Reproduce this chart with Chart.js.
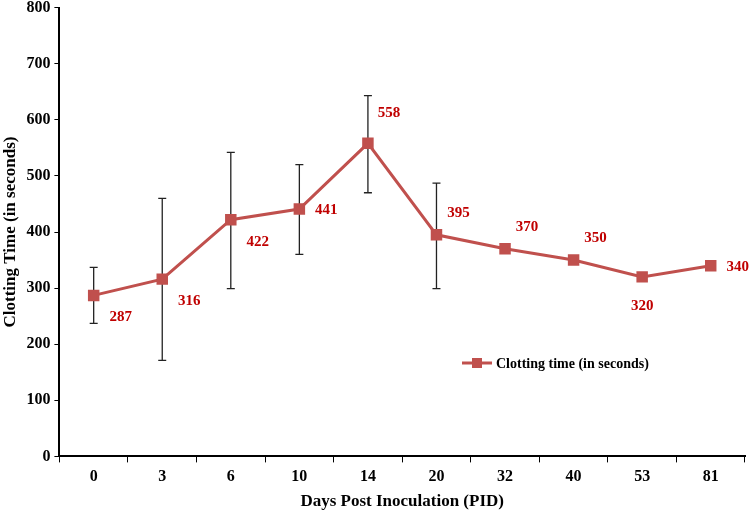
<!DOCTYPE html>
<html>
<head>
<meta charset="utf-8">
<script src="https://cdn.jsdelivr.net/npm/chart.js@4"></script>
<style>
  body { margin: 0; background: #fff; overflow: hidden; }
  #wrap { position: relative; width: 754px; height: 512px; overflow: hidden; }
  #myChart { position: absolute; left: 0; top: -6px; }
</style>
</head>
<body>
<div id="wrap"><canvas id="myChart" width="754" height="518"></canvas></div>
<script>
// values
const days = ['0', '3', '6', '10', '14', '20', '32', '40', '53', '81'];
const clotting = [287, 316, 422, 441, 558, 395, 370, 350, 320, 340];
const errLow = [237, 171, 299, 360, 470, 299, null, null, null, null];
const errHigh = [337, 460, 542, 520, 643, 487, null, null, null, null];
// where each value label sits around its point: r = right, a = above, b = below
const labelSpot = ['rb', 'rb', 'rb', 'r', 'raa', 'ra', 'ra', 'ra', 'b', 'r'];

const red = '#C0504D';
const font = 'Liberation Serif';

const errorBars = {
    id: 'errorBars',
    beforeDatasetsDraw(chart) {
        const ctx = chart.ctx;
        const x = chart.scales.x, y = chart.scales.y;
        ctx.save();
        ctx.strokeStyle = '#222';
        ctx.lineWidth = 1.3;
        errLow.forEach((lo, i) => {
            if (lo == null) return;
            const px = x.getPixelForValue(i);
            const y1 = y.getPixelForValue(lo), y2 = y.getPixelForValue(errHigh[i]);
            ctx.beginPath();
            ctx.moveTo(px, y1); ctx.lineTo(px, y2);
            ctx.moveTo(px - 4, y1); ctx.lineTo(px + 4, y1);
            ctx.moveTo(px - 4, y2); ctx.lineTo(px + 4, y2);
            ctx.stroke();
        });
        ctx.restore();
    }
};

const valueLabels = {
    id: 'valueLabels',
    afterDraw(chart) {
        const ctx = chart.ctx;
        const meta = chart.getDatasetMeta(0);
        ctx.save();
        ctx.fillStyle = '#C00000';
        ctx.font = 'bold 15px ' + font;
        ctx.textAlign = 'center';
        ctx.textBaseline = 'middle';
        meta.data.forEach((pt, i) => {
            let dx = 0, dy = 0;
            const s = labelSpot[i];
            if (s === 'rb') { dx = 27; dy = 22; }
            if (s === 'r') { dx = 27; dy = 1; }
            if (s === 'ra') { dx = 22; dy = -22; }
            if (s === 'raa') { dx = 21; dy = -30; }
            if (s === 'b') { dx = 0; dy = 29; }
            ctx.fillText(clotting[i], pt.x + dx, pt.y + dy);
        });
        ctx.restore();
    }
};

const insideLegend = {
    id: 'insideLegend',
    afterDraw(chart) {
        const ctx = chart.ctx;
        const lx = 462, ly = 369;
        ctx.save();
        ctx.strokeStyle = red;
        ctx.lineWidth = 3;
        ctx.beginPath();
        ctx.moveTo(lx, ly); ctx.lineTo(lx + 30, ly);
        ctx.stroke();
        ctx.fillStyle = red;
        ctx.fillRect(lx + 10, ly - 5, 10, 10);
        ctx.fillStyle = '#000';
        ctx.font = 'bold 14px ' + font;
        ctx.textBaseline = 'middle';
        ctx.fillText(chart.data.datasets[0].label, lx + 34, ly + 1);
        ctx.restore();
    }
};

new Chart(document.getElementById('myChart'), {
    type: 'line',
    data: {
        labels: days,
        datasets: [{
            label: 'Clotting time (in seconds)',
            data: clotting,
            borderColor: red,
            backgroundColor: red,
            borderWidth: 3,
            pointStyle: 'rect',
            pointRadius: 6,
            pointHoverRadius: 6,
            fill: false,
            tension: 0
        }]
    },
    options: {
        responsive: false,
        animation: false,
        devicePixelRatio: 1,
        layout: { padding: { top: 0, right: 2, bottom: 0, left: 0 } },
        plugins: { legend: { display: false }, tooltip: { enabled: false } },
        scales: {
            x: {
                offset: true,
                grid: { display: true, drawOnChartArea: false, drawTicks: true, tickLength: 6, color: '#000', offset: true },
                border: { display: true, color: '#000', width: 2 },
                ticks: { color: '#000', font: { family: font, size: 16, weight: 'bold' }, padding: 5 },
                title: { display: true, text: 'Days Post Inoculation (PID)', color: '#000', font: { family: font, size: 17, weight: 'bold' }, padding: { top: 0, bottom: 0 } }
            },
            y: {
                min: 0, max: 800,
                ticks: { stepSize: 100, color: '#000', font: { family: font, size: 16, weight: 'bold' }, padding: 4 },
                grid: { display: true, drawOnChartArea: false, drawTicks: true, tickLength: 5, color: '#000' },
                border: { display: true, color: '#000', width: 2 },
                title: { display: true, text: 'Clotting Time (in seconds)', color: '#000', font: { family: font, size: 17, weight: 'bold' }, padding: { top: 0, bottom: 2 } }
            }
        }
    },
    plugins: [errorBars, valueLabels, insideLegend]
});
</script>
</body>
</html>
